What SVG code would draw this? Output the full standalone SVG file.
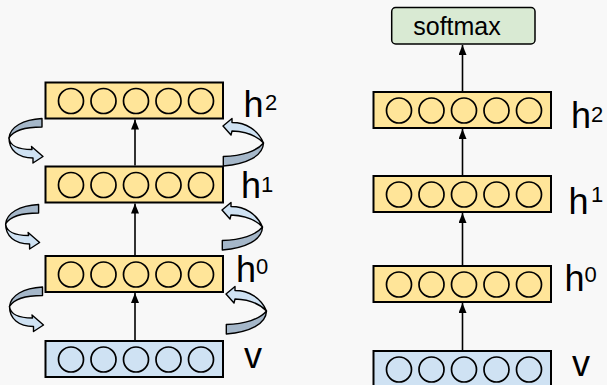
<svg xmlns="http://www.w3.org/2000/svg" xmlns:xlink="http://www.w3.org/1999/xlink" width="607" height="385" viewBox="0 0 607 385">
  <style>
    .layer { stroke: #000; stroke-width: 2; }
    .hid { fill: #ffe599; }
    .vis { fill: #cfe2f3; }
    .unit { fill: none; stroke: #000; stroke-width: 1.7; }
    .lbl { font-family: "Liberation Sans", Arial, sans-serif; font-size: 36px; fill: #000; }
    .sup { font-size: 22px; }
    .link { stroke: #000; stroke-width: 1.6; fill: none; marker-end: url(#head); }
    .back { fill: #a5b7c9; stroke: #000; stroke-width: 1.4; stroke-linejoin: round; }
    .front { fill: #cfe2f3; stroke: #000; stroke-width: 1.4; stroke-linejoin: round; }
  </style>
  <defs>
    <marker id="head" markerUnits="userSpaceOnUse" markerWidth="10" markerHeight="8" refX="10" refY="4" orient="auto">
      <path d="M0,0 L10,4 L0,8 Z" fill="#000"/>
    </marker>
    <!-- five units inside a layer bar, centred on the bar -->
    <g id="units">
      <circle class="unit" cx="-65" cy="0" r="12.5"/>
      <circle class="unit" cx="-32.5" cy="0" r="12.5"/>
      <circle class="unit" cx="0" cy="0" r="12.5"/>
      <circle class="unit" cx="32.5" cy="0" r="12.5"/>
      <circle class="unit" cx="65" cy="0" r="12.5"/>
    </g>
    <!-- U-turn ribbon arrow on the left side, pointing right -->
    <g id="turnL">
      <path class="back" d="M42,118.5 C23,119.5 10,127 9,138 C13,131 25,127 42,127 Z"/>
      <path class="front" d="M9,138 C10,146 19,149.5 32,149.5 L31.5,146.5 L43,156.5 L33,163 L33,158 C18,158 9,150 9,138 Z"/>
    </g>
    <!-- U-turn ribbon arrow on the right side, pointing left -->
    <g id="turnR">
      <path class="front" d="M223,126 L232,118.5 L232,122.5 C246,122.5 258,130 263.5,143 C256,135 246,131.5 232,131 L231,135 Z"/>
      <path class="back" d="M263.5,143 C263,156 247,164 223.3,166 L223.3,156.5 C242,156 257,151 263.5,143 Z"/>
    </g>
  </defs>

  <rect width="607" height="385" fill="#f8f8f8"/>

  <!-- left stack -->
  <g id="L_h2">
    <rect class="layer hid" x="45.5" y="82.5" width="177.5" height="36"/>
    <use xlink:href="#units" x="136" y="101"/>
    <text class="lbl" x="243.6" y="116.7">h</text><text class="lbl sup" x="265" y="109.5">2</text>
  </g>
  <g id="L_h1">
    <rect class="layer hid" x="45.5" y="166.5" width="177.5" height="36"/>
    <use xlink:href="#units" x="136" y="185"/>
    <text class="lbl" x="241" y="197.7">h</text><text class="lbl sup" x="261" y="191.5">1</text>
  </g>
  <g id="L_h0">
    <rect class="layer hid" x="45.5" y="256" width="177.5" height="36"/>
    <use xlink:href="#units" x="136" y="274.5"/>
    <text class="lbl" x="236" y="281.7">h</text><text class="lbl sup" x="256" y="273.8">0</text>
  </g>
  <g id="L_v">
    <rect class="layer vis" x="45.5" y="341" width="177.5" height="36"/>
    <use xlink:href="#units" x="136" y="359.5"/>
    <text class="lbl" x="244" y="368.3">v</text>
  </g>

  <!-- right stack -->
  <g id="softmax">
    <rect x="391.7" y="7.5" width="143.3" height="36.5" rx="4" fill="#d9ead3" stroke="#000" stroke-width="1.5"/>
    <text x="457" y="35" text-anchor="middle" font-family="Liberation Sans, Arial, sans-serif" font-size="25">softmax</text>
  </g>
  <g id="R_h2">
    <rect class="layer hid" x="373.5" y="92" width="177.5" height="36"/>
    <use xlink:href="#units" x="464" y="110.5"/>
    <text class="lbl" x="571" y="127.7">h</text><text class="lbl sup" x="591" y="121.5">2</text>
  </g>
  <g id="R_h1">
    <rect class="layer hid" x="373.5" y="176" width="177.5" height="36"/>
    <use xlink:href="#units" x="464" y="194.5"/>
    <text class="lbl" x="568.5" y="214.3">h</text><text class="lbl sup" x="591" y="202.2">1</text>
  </g>
  <g id="R_h0">
    <rect class="layer hid" x="373.5" y="266" width="177.5" height="36"/>
    <use xlink:href="#units" x="464" y="284.5"/>
    <text class="lbl" x="564.5" y="290.7">h</text><text class="lbl sup" x="584.5" y="282.2">0</text>
  </g>
  <g id="R_v">
    <rect class="layer vis" x="373.5" y="351" width="177.5" height="36"/>
    <use xlink:href="#units" x="464" y="369.5"/>
    <text class="lbl" x="572" y="375.7">v</text>
  </g>

  <!-- connectors -->
  <g id="connectors">
    <line class="link" x1="135" y1="165.5" x2="135" y2="119.5"/>
    <line class="link" x1="135" y1="255" x2="135" y2="203.5"/>
    <line class="link" x1="135" y1="340" x2="135" y2="293"/>
    <line class="link" x1="462.5" y1="91" x2="462.5" y2="45"/>
    <line class="link" x1="462.5" y1="175" x2="462.5" y2="129"/>
    <line class="link" x1="462.5" y1="265" x2="462.5" y2="213"/>
    <line class="link" x1="462.5" y1="350" x2="462.5" y2="303"/>
    <use xlink:href="#turnL"/>
    <use xlink:href="#turnL" x="-3.4" y="86"/>
    <use xlink:href="#turnL" x="0.5" y="168.5"/>
    <use xlink:href="#turnR"/>
    <use xlink:href="#turnR" x="-1" y="84"/>
    <use xlink:href="#turnR" x="3" y="168"/>
  </g>
</svg>
